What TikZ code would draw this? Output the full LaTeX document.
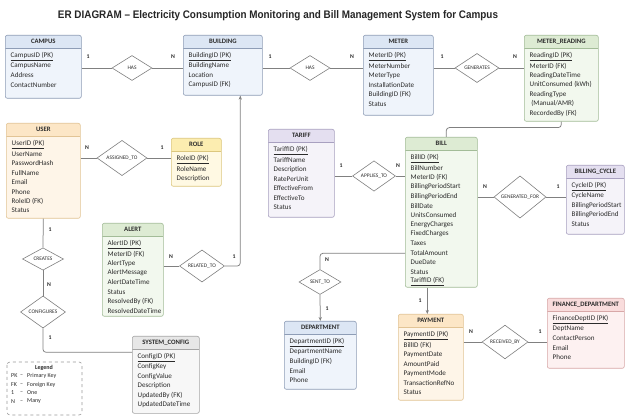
\documentclass[tikz,border=0pt]{standalone}
\usepackage{fontspec}
\setmainfont{Carlito}
\newfontfamily\titlefont[FakeStretch=0.9]{Liberation Sans}
\usetikzlibrary{shapes.geometric,arrows.meta}

% palettes: header fill, body fill, border
\definecolor{blueHead}{HTML}{DCE6F4}\definecolor{blueBody}{HTML}{EFF4FB}\definecolor{blueLine}{HTML}{8E9DB6}
\definecolor{greenHead}{HTML}{DDEBD3}\definecolor{greenBody}{HTML}{F2F8EE}\definecolor{greenLine}{HTML}{A3BC98}
\definecolor{orangeHead}{HTML}{FCE6C6}\definecolor{orangeBody}{HTML}{FEF5E8}\definecolor{orangeLine}{HTML}{E2C495}
\definecolor{yellowHead}{HTML}{FCEDB0}\definecolor{yellowBody}{HTML}{FFF9E3}\definecolor{yellowLine}{HTML}{DCC77E}
\definecolor{lavHead}{HTML}{E4DFF0}\definecolor{lavBody}{HTML}{F5F3F9}\definecolor{lavLine}{HTML}{A8A0C0}
\definecolor{pinkHead}{HTML}{F9DCDC}\definecolor{pinkBody}{HTML}{FDF1F1}\definecolor{pinkLine}{HTML}{D8A8A8}
\definecolor{greyHead}{HTML}{E7E7E7}\definecolor{greyBody}{HTML}{F7F7F7}\definecolor{greyLine}{HTML}{A5A5A5}
\definecolor{ink}{HTML}{2B2B2B}
\definecolor{wire}{HTML}{808080}

\tikzset{
  entbox/.style={draw=#1Line, fill=#1Body, rounded corners=2pt, inner sep=0pt, line width=0.6pt,
    path picture={
      \fill[#1Head] (path picture bounding box.north west) rectangle ([yshift=-13pt]path picture bounding box.north east);
      \draw[#1Line, line width=0.5pt] ([yshift=-13pt]path picture bounding box.north west) -- ([yshift=-13pt]path picture bounding box.north east);
    }},
  enttitle/.style={font=\fontsize{6.7}{7.5}\selectfont\bfseries, text=ink, inner sep=0pt},
  attr/.style={font=\fontsize{7.1}{8}\selectfont, text=ink, inner sep=0pt, anchor=west},
  rel/.style={shape=diamond, draw=wire, fill=white, line width=0.6pt, inner sep=0pt,
    font=\fontsize{5.4}{6}\selectfont, text=ink},
  conn/.style={draw=wire, line width=0.75pt},
  arrowed/.style={-{Stealth[length=4pt,width=3.2pt]}},
  card/.style={font=\fontsize{5.8}{6.5}\selectfont\bfseries, text=ink, inner sep=0pt},
  legtext/.style={font=\fontsize{6}{7}\selectfont, text=ink, inner sep=0pt, anchor=west},
}

% entity: name, palette, left x, top y, width, height, title, attribute list
\newcommand\erent[8]{%
  \node[entbox=#2, minimum width=#5pt, minimum height=#6pt, anchor=north west] (#1) at (#3,#4) {};
  \node[enttitle] (#1-t) at ([yshift=-6.5pt]#1.north) {#7};
  \foreach \a [count=\i] in {#8} {
    \node[attr] (#1-a\i) at ([xshift=5.5pt,yshift={-21.5pt-(\i-1)*9.45pt}]#1.north west) {\a};
  }
}

\begin{document}
\begin{tikzpicture}[x=1pt,y=-1pt]
\fill[white] (0,0) rectangle (625,417);
\useasboundingbox (0,0) rectangle (625,417);

\node[font=\titlefont\fontsize{11}{13}\selectfont\bfseries, text=black!85, inner sep=0pt] (title) at (278,15.5)
  {ER DIAGRAM – Electricity Consumption Monitoring and Bill Management System for Campus};

% entities
\erent{campus}{blue}{5}{35}{76}{63}{CAMPUS}{\underline{CampusID (PK)}, CampusName, Address, ContactNumber}
\erent{building}{blue}{183}{35}{79}{60}{BUILDING}{\underline{BuildingID (PK)}, BuildingName, Location, CampusID (FK)}
\erent{meter}{blue}{363}{35}{70}{80}{METER}{\underline{MeterID (PK)}, MeterNumber, MeterType, InstallationDate, BuildingID (FK), Status}
\erent{meterreading}{green}{524}{35}{74}{86}{METER\_READING}{\underline{ReadingID (PK)}, MeterID (FK), ReadingDateTime, UnitConsumed (kWh), ReadingType, \ (Manual/AMR), RecordedBy (FK)}
\erent{tariff}{lav}{268}{129}{66}{88}{TARIFF}{\underline{TariffID (PK)}, TariffName, Description, RatePerUnit, EffectiveFrom, EffectiveTo, Status}
\erent{bill}{green}{405}{137}{72}{150}{BILL}{\underline{BillID (PK)}, BillNumber, MeterID (FK), BillingPeriodStart, BillingPeriodEnd, BillDate, UnitsConsumed, EnergyCharges, FixedCharges, Taxes, TotalAmount, DueDate, Status, \underline{TariffID (FK)}}
\erent{billingcycle}{lav}{566}{165}{58}{69}{BILLING\_CYCLE}{\underline{CycleID (PK)}, CycleName, BillingPeriodStart, BillingPeriodEnd, Status}
\erent{user}{orange}{6}{123}{74}{95}{USER}{\underline{UserID (PK)}, UserName, PasswordHash, FullName, Email, Phone, RoleID (FK), Status}
\erent{role}{yellow}{171}{138}{50}{48}{ROLE}{\underline{RoleID (PK)}, RoleName, Description}
\erent{alert}{green}{102}{223}{61}{93}{ALERT}{\underline{AlertID (PK)}, MeterID (FK), AlertType, AlertMessage, AlertDateTime, Status, ResolvedBy (FK), ResolvedDateTime}
\erent{sysconfig}{grey}{132}{336}{67}{77}{SYSTEM\_CONFIG}{\underline{ConfigID (PK)}, ConfigKey, ConfigValue, Description, UpdatedBy (FK), UpdatedDateTime}
\erent{department}{blue}{284}{321}{72}{68}{DEPARTMENT}{\underline{DepartmentID (PK)}, DepartmentName, BuildingID (FK), Email, Phone}
\erent{payment}{orange}{398}{314}{65}{86}{PAYMENT}{\underline{PaymentID (PK)}, BillID (FK), PaymentDate, AmountPaid, PaymentMode, TransactionRefNo, Status}
\erent{finance}{pink}{547}{298}{77}{70}{FINANCE\_DEPARTMENT}{\underline{FinanceDeptID (PK)}, DeptName, ContactPerson, Email, Phone}

% relationships
\node[rel, minimum width=40pt, minimum height=25pt] (has1) at (132,68) {HAS};
\node[rel, minimum width=40pt, minimum height=25pt] (has2) at (310,68) {HAS};
\node[rel, minimum width=44pt, minimum height=28pt] (gen) at (477,68) {GENERATES};
\node[rel, minimum width=43pt, minimum height=28pt] (applies) at (374,176) {APPLIES\_TO};
\node[rel, minimum width=52pt, minimum height=33pt] (genfor) at (520,197) {GENERATED\_FOR};
\node[rel, minimum width=50pt, minimum height=31pt] (assigned) at (122,158) {ASSIGNED\_TO};
\node[rel, minimum width=45pt, minimum height=30pt] (related) at (202,266) {RELATED\_TO};
\node[rel, minimum width=41pt, minimum height=22pt] (creates) at (43,259) {CREATES};
\node[rel, minimum width=45pt, minimum height=24pt] (configures) at (43,312) {CONFIGURES};
\node[rel, minimum width=42pt, minimum height=25pt] (sentto) at (320,282) {SENT\_TO};
\node[rel, minimum width=46pt, minimum height=30pt] (received) at (505,342) {RECEIVED\_BY};

% connectors
\draw[conn] (campus.east |- has1) -- (has1.west);
\draw[conn] (has1.east) -- (building.west |- has1);
\draw[conn] (building.east |- has2) -- (has2.west);
\draw[conn] (has2.east) -- (meter.west |- has2);
\draw[conn] (meter.east |- gen) -- (gen.west);
\draw[conn] (gen.east) -- (meterreading.west |- gen);
\draw[conn, rounded corners=3pt] (meterreading.south) -- ++(0,6) -| ([xshift=5pt]bill.north);
\draw[conn] (tariff.east |- applies) -- (applies.west);
\draw[conn] (applies.east) -- (bill.west |- applies);
\draw[conn] (bill.east |- genfor) -- (genfor.west);
\draw[conn] (genfor.east) -- (billingcycle.west |- genfor);
\draw[conn] (user.east |- assigned) -- (assigned.west);
\draw[conn] (assigned.east) -- (role.west |- assigned);
\draw[conn] (alert.east |- related) -- (related.west);
\draw[conn, arrowed, rounded corners=3pt] (related.east) -| ([xshift=17.5pt]building.south);
\draw[conn] (user.south) -- (creates.north);
\draw[conn] (creates.south) -- (configures.north);
\draw[conn, rounded corners=3pt] (configures.south) |- ([yshift=22.5pt]sysconfig.west);
\draw[conn, rounded corners=3pt] ([yshift=-41pt]bill.west) -| (sentto.north);
\draw[conn, arrowed] (sentto.south) -- (department.north);
\coordinate (payTop) at ([xshift=-3.5pt]payment.north);
\draw[conn, arrowed] (payTop |- bill.south) -- (payTop);
\draw[conn] (payment.east |- received) -- (received.west);
\draw[conn] (received.east) -- (finance.west |- received);

% cardinalities
\node[card] (c1) at (88,57) {1};
\node[card] (c2) at (173,57) {N};
\node[card] (c3) at (270,57) {1};
\node[card] (c4) at (352,57) {N};
\node[card] (c5) at (442,57) {1};
\node[card] (c6) at (515,57) {N};
\node[card] (c7) at (341,166) {1};
\node[card] (c8) at (398,166) {N};
\node[card] (c9) at (485,187) {N};
\node[card] (c10) at (558,187) {1};
\node[card] (c11) at (87,148) {N};
\node[card] (c12) at (162,148) {1};
\node[card] (c13) at (171,257) {N};
\node[card] (c14) at (234,257) {1};
\node[card] (c15) at (50,230) {1};
\node[card] (c16) at (49,285) {N};
\node[card] (c17) at (50,338) {1};
\node[card] (c18) at (327,260) {N};
\node[card] (c19) at (327,309) {1};
\node[card] (c20) at (420,301) {1};
\node[card] (c21) at (471,332) {N};
\node[card] (c22) at (540,332) {1};

% legend
\draw[draw=black!40, dashed, rounded corners=3pt, line width=0.6pt, fill=white] (7,362) rectangle (82,415);
\node[font=\fontsize{6}{7}\selectfont\bfseries, text=ink, inner sep=0pt] (legtitle) at (44,368) {Legend};
\foreach \k/\v/\yy [count=\j] in {PK/Primary Key/376, FK/Foreign Key/384.5, 1/One/393, N/Many/401.5} {
  \node[legtext] (lk\j) at (11,\yy) {\k};
  \node[legtext] (ld\j) at (20,\yy) {–};
  \node[legtext] (lv\j) at (27,\yy) {\v};
}
\end{tikzpicture}
\end{document}
